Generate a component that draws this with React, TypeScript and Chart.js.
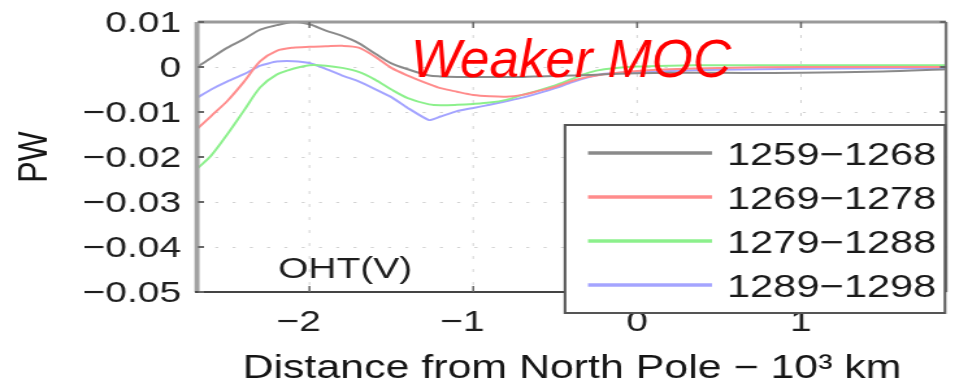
import React, { useEffect, useRef } from 'react';
import { Chart, registerables } from 'chart.js';

Chart.register(...registerables);

// ---- data ----
const distance = [-2.68, -2.6, -2.5, -2.4, -2.3, -2.2, -2.1, -2.0, -1.9, -1.8, -1.7, -1.6, -1.5, -1.4, -1.27, -1.2, -1.1, -1.0, -0.9, -0.8, -0.7, -0.6, -0.5, -0.4, -0.3, -0.2, 0, 0.2, 0.5, 1.0, 1.5, 1.885];
const oht1259 = [0.0001, 0.0020, 0.0043, 0.0062, 0.0083, 0.0093, 0.0100, 0.0095, 0.0081, 0.0069, 0.0053, 0.0030, 0.0008, -0.0005, -0.0019, -0.0021, -0.0022, -0.0022, -0.0022, -0.0022, -0.0022, -0.0021, -0.0020, -0.0019, -0.0018, -0.0016, -0.0014, -0.0013, -0.0013, -0.0013, -0.0010, -0.0005];
const oht1269 = [-0.0136, -0.0109, -0.0075, -0.0033, 0.0013, 0.0036, 0.0043, 0.0045, 0.0046, 0.0047, 0.0043, 0.0023, -0.0002, -0.0019, -0.0038, -0.0047, -0.0055, -0.0062, -0.0065, -0.0066, -0.0062, -0.0053, -0.0044, -0.0031, -0.0022, -0.0016, -0.0009, -0.0005, -0.0002, 0.0000, 0.0000, 0.0000];
const oht1279 = [-0.0224, -0.0197, -0.0149, -0.0097, -0.0045, -0.0017, -0.0004, 0.0004, 0.0003, -0.0002, -0.0011, -0.0028, -0.0050, -0.0069, -0.0083, -0.0085, -0.0084, -0.0082, -0.0079, -0.0073, -0.0062, -0.0052, -0.0041, -0.0027, -0.0013, -0.0005, 0.0001, 0.0003, 0.0004, 0.0004, 0.0004, 0.0004];
const oht1289 = [-0.0067, -0.0050, -0.0032, -0.0016, 0.0003, 0.0012, 0.0013, 0.0009, -0.0004, -0.0019, -0.0032, -0.0049, -0.0067, -0.0091, -0.0118, -0.0110, -0.0098, -0.0091, -0.0084, -0.0076, -0.0068, -0.0058, -0.0047, -0.0034, -0.0023, -0.0015, -0.0011, -0.0009, -0.0006, -0.0004, -0.0003, -0.0003];

const seriesLabels = ['1259\u22121268', '1269\u22121278', '1279\u22121288', '1289\u22121298'];
const seriesValues = [oht1259, oht1269, oht1279, oht1289];
const seriesColors = ['#8a8a8a', '#ff8c8c', '#8cf08c', '#a4a4ff'];
const seriesTension = [0.3, 0.3, 0.3, 0.15];

const xTickValues = [-2, -1, 0, 1];
const yTickValues = [0.01, 0, -0.01, -0.02, -0.03, -0.04, -0.05];
const xTitle = 'Distance from North Pole \u2212 10\u00B3 km';
const yTitle = 'PW';
const panelLabel = 'OHT(V)';
const annotationText = 'Weaker MOC';

// ---- layout ----
const SCREEN_W = 955;
const SCREEN_H = 384;
const LOGICAL_W = 735; // chart drawn narrower, then stretched horizontally like the reference
const S = SCREEN_W / LOGICAL_W;
const FONT = '"Liberation Sans", Arial, Helvetica, sans-serif';

function fmtY(v: number): string {
  const r = Math.round(v * 1000) / 1000;
  if (r === 0) return '0';
  return (r < 0 ? '\u2212' : '') + Math.abs(r).toFixed(2);
}
function fmtX(v: number): string {
  const r = Math.round(v * 1000) / 1000;
  if (r === 0) return '0';
  return r < 0 ? '\u2212' + Math.abs(r) + '\u2007' : String(r);
}

export default function App() {
  const ref = useRef<HTMLCanvasElement>(null);

  useEffect(() => {
    const canvas = ref.current;
    if (!canvas) return;

    const decor = {
      id: 'matlabDecor',
      beforeDatasetsDraw(chart: any) {
        const { ctx, chartArea, scales } = chart;
        const { left, right, top, bottom } = chartArea;
        ctx.save();
        ctx.strokeStyle = '#d2d2d2';
        ctx.lineWidth = 1;
        ctx.setLineDash([2.3, 11]);
        for (const v of yTickValues) {
          const py = Math.round(scales.y.getPixelForValue(v)) + 0.5;
          if (py <= top + 2 || py >= bottom - 2) continue;
          ctx.beginPath();
          ctx.moveTo(left, py);
          ctx.lineTo(right, py);
          ctx.stroke();
        }
        ctx.setLineDash([3, 10]);
        for (const v of xTickValues) {
          const px = scales.x.getPixelForValue(v);
          ctx.beginPath();
          ctx.moveTo(px, top);
          ctx.lineTo(px, bottom);
          ctx.stroke();
        }
        ctx.restore();
      },
      afterDatasetsDraw(chart: any) {
        const { ctx, chartArea, scales } = chart;
        const { left, right, top, bottom } = chartArea;
        ctx.save();
        ctx.setLineDash([]);
        // box
        ctx.strokeStyle = '#9a9a9a';
        ctx.lineWidth = 3;
        ctx.beginPath(); ctx.moveTo(left, top); ctx.lineTo(right, top); ctx.stroke();
        ctx.strokeStyle = '#a2a2a2';
        ctx.lineWidth = 5 / S;
        ctx.beginPath(); ctx.moveTo(left - 1 / S, top); ctx.lineTo(left - 1 / S, bottom); ctx.stroke();
        ctx.strokeStyle = '#777';
        ctx.lineWidth = 3 / S;
        ctx.beginPath(); ctx.moveTo(right, top); ctx.lineTo(right, bottom); ctx.stroke();
        ctx.strokeStyle = '#444';
        ctx.lineWidth = 2;
        ctx.beginPath(); ctx.moveTo(left - 3 / S, bottom); ctx.lineTo(right, bottom); ctx.stroke();
        // inward ticks
        ctx.strokeStyle = '#666';
        ctx.lineWidth = 2;
        const tl = 6;
        for (const v of yTickValues) {
          const py = scales.y.getPixelForValue(v);
          ctx.beginPath();
          ctx.moveTo(left, py); ctx.lineTo(left + tl / S, py);
          ctx.moveTo(right, py); ctx.lineTo(right - tl / S, py);
          ctx.stroke();
        }
        ctx.lineWidth = 2 / S;
        for (const v of xTickValues) {
          const px = scales.x.getPixelForValue(v);
          ctx.beginPath();
          ctx.moveTo(px, top); ctx.lineTo(px, top + tl);
          ctx.moveTo(px, bottom); ctx.lineTo(px, bottom - tl);
          ctx.stroke();
        }
        // panel label
        ctx.fillStyle = '#1e1e1e';
        ctx.font = `30px ${FONT}`;
        ctx.textAlign = 'left';
        ctx.textBaseline = 'middle';
        ctx.fillText(panelLabel, 278 / S, 270);
        ctx.restore();
      },
      afterDraw(chart: any) {
        const { ctx } = chart;
        ctx.save();
        ctx.setLineDash([]);
        // legend box
        const bx0 = 565 / S, bx1 = 945 / S, by0 = 125, by1 = 313;
        ctx.fillStyle = '#ffffff';
        ctx.fillRect(bx0, by0, bx1 - bx0, by1 - by0);
        ctx.strokeStyle = '#555';
        ctx.lineWidth = 2;
        ctx.strokeRect(bx0, by0, bx1 - bx0, by1 - by0);
        ctx.font = `32px ${FONT}`;
        ctx.textAlign = 'left';
        ctx.textBaseline = 'middle';
        seriesLabels.forEach((label, i) => {
          const yy = 153 + 44 * i;
          ctx.strokeStyle = seriesColors[i];
          ctx.lineWidth = 3.5;
          ctx.beginPath();
          ctx.moveTo(588 / S, yy);
          ctx.lineTo(712 / S, yy);
          ctx.stroke();
          ctx.fillStyle = '#1a1a1a';
          ctx.fillText(label, 727 / S, yy + 3);
        });
        // annotation (not stretched)
        ctx.scale(1 / S, 1);
        ctx.font = `italic 53px ${FONT}`;
        ctx.fillStyle = '#ff0000';
        ctx.textAlign = 'left';
        ctx.textBaseline = 'alphabetic';
        ctx.fillText(annotationText, 411, 77);
        ctx.restore();
      },
    };

    const chart = new Chart(canvas, {
      type: 'line',
      data: {
        datasets: seriesLabels.map((label, i) => ({
          label,
          data: distance.map((x, j) => ({ x, y: seriesValues[i][j] })),
          borderColor: seriesColors[i],
          backgroundColor: seriesColors[i],
          borderWidth: 2,
          pointRadius: 0,
          fill: false,
          tension: seriesTension[i],
        })),
      },
      options: {
        responsive: false,
        animation: false,
        devicePixelRatio: 1,
        events: [],
        layout: { padding: { left: 0, right: LOGICAL_W - 946 / S, top: 22, bottom: 0 } },
        plugins: { legend: { display: false }, tooltip: { enabled: false } },
        scales: {
          x: {
            type: 'linear',
            min: -2.68,
            max: 1.885,
            afterBuildTicks: (scale: any) => { scale.ticks = xTickValues.map((value) => ({ value })); },
            afterFit: (scale: any) => {
              scale.height = SCREEN_H - 292;
              scale.paddingLeft = 0; scale.paddingRight = 0; scale.paddingTop = 0; scale.paddingBottom = 0;
            },
            grid: { display: false, drawTicks: false },
            border: { display: false },
            ticks: {
              autoSkip: false,
              maxRotation: 0,
              padding: 13,
              color: '#1e1e1e',
              font: { size: 30, family: FONT },
              callback: (v: any) => fmtX(Number(v)),
            },
            title: {
              display: true,
              text: xTitle,
              color: '#151515',
              font: { size: 33, family: FONT, lineHeight: 0.9 },
              padding: { top: 0, bottom: 0 },
            },
          },
          y: {
            type: 'linear',
            min: -0.05,
            max: 0.01,
            afterBuildTicks: (scale: any) => { scale.ticks = yTickValues.map((value) => ({ value })); },
            afterFit: (scale: any) => {
              scale.width = 198 / S;
              scale.paddingLeft = 0; scale.paddingRight = 0; scale.paddingTop = 0; scale.paddingBottom = 0;
            },
            grid: { display: false, drawTicks: false },
            border: { display: false },
            ticks: {
              autoSkip: false,
              padding: 13,
              labelOffset: 2,
              color: '#1e1e1e',
              font: { size: 30, family: FONT },
              callback: (v: any) => fmtY(Number(v)),
            },
            title: {
              display: true,
              text: yTitle,
              color: '#151515',
              font: { size: 32, family: FONT },
              padding: { top: 7.7, bottom: 0 },
            },
          },
        },
      },
      plugins: [decor],
    } as any);

    return () => chart.destroy();
  }, []);

  return (
    <div style={{ position: 'fixed', left: 0, top: 0, width: SCREEN_W, height: SCREEN_H, overflow: 'hidden', background: '#fff' }}>
      <canvas
        ref={ref}
        width={LOGICAL_W}
        height={SCREEN_H}
        style={{ width: SCREEN_W + 'px', height: SCREEN_H + 'px', display: 'block' }}
      />
    </div>
  );
}
